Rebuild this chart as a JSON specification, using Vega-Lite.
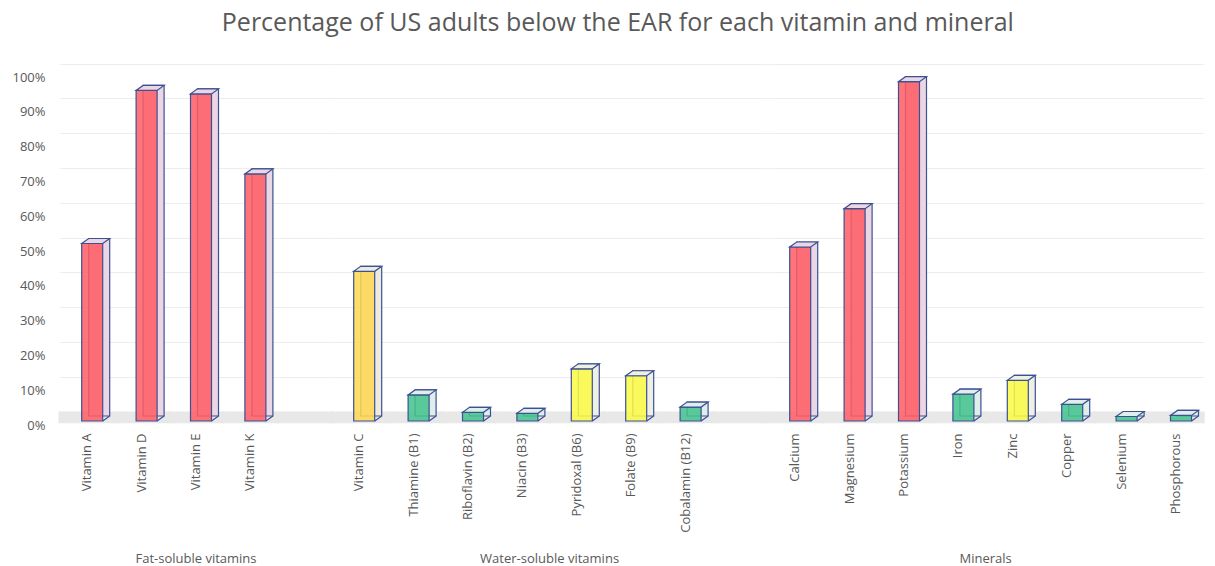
{
  "$schema": "https://vega.github.io/schema/vega-lite/v6.json",
  "padding": {"left": 5, "right": 5, "top": 11, "bottom": 0},
  "bounds": "flush",
  "background": "white",
  "title": {
    "text": "Percentage of US adults below the EAR for each vitamin and mineral",
    "font": "Open Sans",
    "fontSize": 25,
    "fontWeight": "normal",
    "color": "#595959",
    "anchor": "middle",
    "dx": 13,
    "offset": 35
  },
  "data": {
    "values": [
      {"group": "Fat-soluble vitamins", "nutrient": "Vitamin A", "pct": 51, "level": "over50"},
      {"group": "Fat-soluble vitamins", "nutrient": "Vitamin D", "pct": 95, "level": "over50"},
      {"group": "Fat-soluble vitamins", "nutrient": "Vitamin E", "pct": 94, "level": "over50"},
      {"group": "Fat-soluble vitamins", "nutrient": "Vitamin K", "pct": 71, "level": "over50"},
      {"group": "Fat-soluble vitamins", "nutrient": " ", "pct": null, "level": null},
      {"group": "Water-soluble vitamins", "nutrient": "Vitamin C", "pct": 43, "level": "25to50"},
      {"group": "Water-soluble vitamins", "nutrient": "Thiamine (B1)", "pct": 7.5, "level": "under10"},
      {"group": "Water-soluble vitamins", "nutrient": "Riboflavin (B2)", "pct": 2.5, "level": "under10"},
      {"group": "Water-soluble vitamins", "nutrient": "Niacin (B3)", "pct": 2.2, "level": "under10"},
      {"group": "Water-soluble vitamins", "nutrient": "Pyridoxal (B6)", "pct": 15, "level": "10to25"},
      {"group": "Water-soluble vitamins", "nutrient": "Folate (B9)", "pct": 13, "level": "10to25"},
      {"group": "Water-soluble vitamins", "nutrient": "Cobalamin (B12)", "pct": 4, "level": "under10"},
      {"group": "Water-soluble vitamins", "nutrient": " ", "pct": null, "level": null},
      {"group": "Minerals", "nutrient": "Calcium", "pct": 50, "level": "over50"},
      {"group": "Minerals", "nutrient": "Magnesium", "pct": 61, "level": "over50"},
      {"group": "Minerals", "nutrient": "Potassium", "pct": 97.5, "level": "over50"},
      {"group": "Minerals", "nutrient": "Iron", "pct": 7.7, "level": "under10"},
      {"group": "Minerals", "nutrient": "Zinc", "pct": 11.7, "level": "10to25"},
      {"group": "Minerals", "nutrient": "Copper", "pct": 4.8, "level": "under10"},
      {"group": "Minerals", "nutrient": "Selenium", "pct": 1.3, "level": "under10"},
      {"group": "Minerals", "nutrient": "Phosphorous", "pct": 1.6, "level": "under10"}
    ]
  },
  "facet": {
    "column": {
      "field": "group",
      "type": "nominal",
      "sort": ["Fat-soluble vitamins", "Water-soluble vitamins", "Minerals"],
      "title": null,
      "header": {
        "labelOrient": "bottom",
        "labelFont": "Open Sans",
        "labelFontSize": 13,
        "labelColor": "#595959",
        "labelPadding": 132
      }
    }
  },
  "spacing": 0,
  "resolve": {"scale": {"x": "independent"}},
  "spec": {
    "width": {"step": 54.4},
    "height": 348,
    "encoding": {
      "x": {
        "field": "nutrient",
        "type": "nominal",
        "sort": null,
        "title": null,
        "scale": {"type": "band", "paddingInner": 0, "paddingOuter": 0}
      }
    },
    "layer": [
      {
        "mark": {"type": "rect", "color": "#E8E8E8", "stroke": "#E8E8E8", "strokeWidth": 3},
        "encoding": {
          "y": {"datum": -0.2, "type": "quantitative", "title": null, "scale": {"domain": [0, 100], "nice": false}},
          "y2": {"datum": 2.3}
        }
      },
      {
        "transform": [{"filter": "datum.pct != null"}],
        "mark": {"type": "bar", "width": 21, "xOffset": 12, "yOffset": -5, "y2Offset": -5, "stroke": "#3C5192", "strokeWidth": 1.2},
        "encoding": {
          "y": {"field": "pct", "type": "quantitative", "title": null},
          "fill": {
            "field": "level",
            "type": "nominal",
            "legend": null,
            "scale": {"domain": ["over50", "25to50", "10to25", "under10"], "range": ["#EAD6E4", "#EDEBDD", "#EDF0E2", "#DFEDEB"]}
          }
        }
      },
      {
        "transform": [{"filter": "datum.pct != null"}],
        "mark": {"type": "bar", "width": 21, "xOffset": 5, "stroke": "#3C5192", "strokeWidth": 1.2, "fillOpacity": 0.86},
        "encoding": {
          "y": {"field": "pct", "type": "quantitative", "title": null},
          "color": {
            "field": "level",
            "type": "nominal",
            "legend": null,
            "scale": {"domain": ["over50", "25to50", "10to25", "under10"], "range": ["#FF5C64", "#FFD752", "#FAFA46", "#42C28D"]}
          }
        }
      },
      {
        "transform": [{"filter": "datum.pct != null"}],
        "mark": {"type": "point", "shape": "M-0.22,0L0.62,0L0.9,-0.2L0.06,-0.2Z", "size": 2500, "filled": true, "opacity": 1, "stroke": "#3C5192", "strokeWidth": 1.2},
        "encoding": {
          "y": {"field": "pct", "type": "quantitative", "title": null},
          "fill": {"field": "level", "type": "nominal", "legend": null}
        }
      },
      {
        "transform": [{"filter": "datum.pct != null"}],
        "mark": {"type": "point", "shape": "M0.62,0L0.9,-0.2", "size": 2500, "filled": false, "opacity": 1, "stroke": "#3C5192", "strokeWidth": 1.2},
        "encoding": {
          "y": {"datum": 0, "type": "quantitative", "title": null}
        }
      }
    ]
  },
  "config": {
    "view": {"stroke": null},
    "font": "Open Sans",
    "axisX": {
      "labelAngle": -90,
      "labelFont": "Open Sans",
      "labelFontSize": 13,
      "labelColor": "#595959",
      "labelPadding": 12,
      "ticks": false,
      "domain": false,
      "grid": false,
      "minExtent": 114,
      "maxExtent": 114
    },
    "axisY": {
      "values": [0, 10, 20, 30, 40, 50, 60, 70, 80, 90, 100],
      "labelExpr": "datum.value + '%'",
      "labelFont": "Open Sans",
      "labelFontSize": 13,
      "labelColor": "#595959",
      "labelPadding": 15,
      "ticks": false,
      "domain": false,
      "grid": true,
      "gridColor": "#EDEDED",
      "tickOffset": -9.5,
      "labelOffset": 13.5,
      "minExtent": 55,
      "maxExtent": 55
    }
  }
}
